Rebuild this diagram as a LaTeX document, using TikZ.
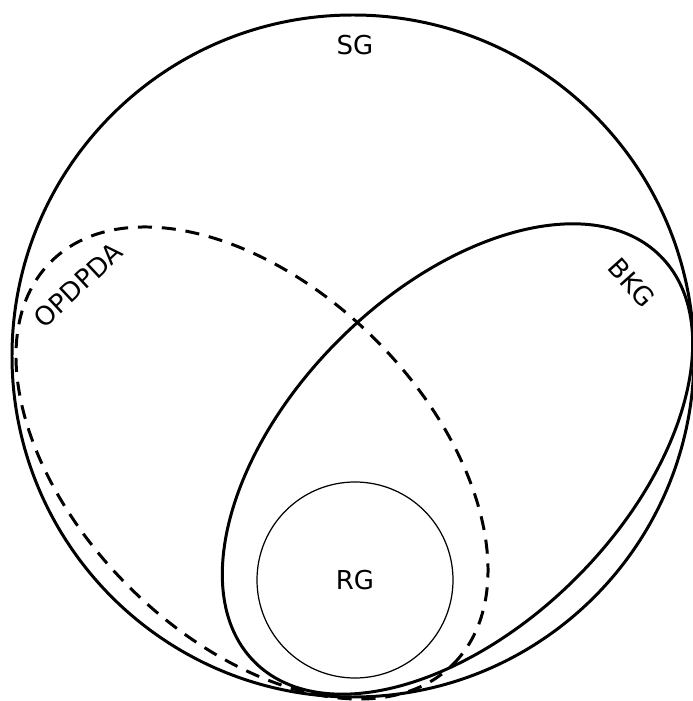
\documentclass[tikz,border=0pt]{standalone}
\usepackage{fontspec}
\setmainfont{DejaVu Sans}
\usetikzlibrary{positioning}

\begin{document}
\begin{tikzpicture}[
    setline/.style={draw=black, line width=0.85pt},
    subline/.style={draw=black, line width=0.35pt},
    dashline/.style={setline, dash pattern=on 4pt off 2.8pt},
    setlabel/.style={font=\fontsize{7.4}{9}\selectfont, inner sep=0pt},
  ]
    \useasboundingbox (0,0) rectangle (6.93,7.01);

    % SG
    \draw[setline] (3.53,3.45) circle (3.41);
    \node[setlabel] (SG) at (3.55,6.56) {SG};

    % OPDPDA
    \draw[dashline, rotate around={-45:(2.52,2.38)}] (2.52,2.38) ellipse (2.845 and 1.745);
    \node[setlabel, rotate=43] (OPDPDA) at (0.78,4.16) {OPDPDA};

    % BKG
    \draw[setline, rotate around={45:(4.575,2.42)}] (4.575,2.42) ellipse (2.87 and 1.68);
    \node[setlabel, rotate=-48] (BKG) at (6.32,4.18) {BKG};

    % RG
    \draw[subline] (3.55,1.21) circle (0.98);
    \node[setlabel] (RG) at (3.55,1.21) {RG};
  \end{tikzpicture}
\end{document}
